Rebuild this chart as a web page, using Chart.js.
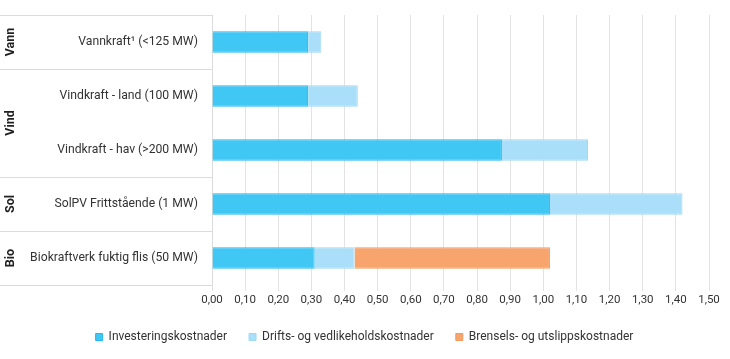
<!DOCTYPE html>
<html>
<head>
<meta charset="utf-8">
<script src="https://cdn.jsdelivr.net/npm/chart.js@4"></script>
<style>
html,body{margin:0;padding:0;background:#fff;}
#wrap{width:730px;height:359px;position:relative;}
</style>
</head>
<body>
<div id="wrap"><canvas id="c"></canvas></div>
<script>
const categories = ['Vannkraft\u00B9 (<125 MW)', 'Vindkraft - land (100 MW)', 'Vindkraft - hav (>200 MW)', 'SolPV Frittstående (1 MW)', 'Biokraftverk fuktig flis (50 MW)'];
const groupNames = ['Vann', 'Vind', 'Sol', 'Bio'];
const groupSizes = [1, 2, 1, 1];
const seriesNames = ['Investeringskostnader', 'Drifts- og vedlikeholdskostnader', 'Brensels- og utslippskostnader'];
const investering = [0.29, 0.29, 0.875, 1.02, 0.31];
const drift = [0.04, 0.15, 0.26, 0.40, 0.12];
const brensel = [0, 0, 0, 0, 0.59];
const xTicks = [0, 0.1, 0.2, 0.3, 0.4, 0.5, 0.6, 0.7, 0.8, 0.9, 1.0, 1.1, 1.2, 1.3, 1.4, 1.5];

const FONT = 'Roboto, "Open Sans", sans-serif';
const LINE = '#dcdcdc';

const groupPlugin = {
  id: 'groupBox',
  afterDraw(chart) {
    const ctx = chart.ctx;
    const y = chart.scales.y;
    const area = chart.chartArea;
    const n = categories.length;
    const step = (y.getPixelForValue(n - 1) - y.getPixelForValue(0)) / (n - 1);
    ctx.save();
    ctx.strokeStyle = LINE;
    ctx.lineWidth = 1;
    let idx = 0;
    const bounds = [y.getPixelForValue(0) - step / 2];
    groupSizes.forEach(s => { idx += s; bounds.push(y.getPixelForValue(idx - 1) + step / 2); });
    bounds.forEach(b => {
      const yy = Math.round(b) + 0.5;
      ctx.beginPath(); ctx.moveTo(0, yy); ctx.lineTo(area.left, yy); ctx.stroke();
    });
    ctx.fillStyle = '#222';
    ctx.font = 'bold 12.5px ' + FONT;
    ctx.textAlign = 'center';
    ctx.textBaseline = 'middle';
    groupNames.forEach((g, i) => {
      const cy = (bounds[i] + bounds[i + 1]) / 2;
      ctx.save();
      ctx.translate(11, cy);
      ctx.rotate(-Math.PI / 2);
      ctx.fillText(g, 0, 0);
      ctx.restore();
    });
    ctx.restore();
  }
};

new Chart(document.getElementById('c'), {
  type: 'bar',
  data: {
    labels: categories,
    datasets: [
      { label: seriesNames[0], data: investering, backgroundColor: '#40C7F4', borderColor: '#22B9EE', borderWidth: 1 },
      { label: seriesNames[1], data: drift, backgroundColor: '#AADFFA', borderColor: '#9DD8F7', borderWidth: 1 },
      { label: seriesNames[2], data: brensel, backgroundColor: '#F7A56D', borderColor: '#F29A5E', borderWidth: 1 }
    ]
  },
  options: {
    indexAxis: 'y',
    responsive: true,
    maintainAspectRatio: false,
    animation: false,
    layout: { padding: { left: 20, right: 21, top: 15, bottom: 6 } },
    datasets: { bar: { categoryPercentage: 1, barPercentage: 0.4 } },
    scales: {
      x: {
        stacked: true,
        min: 0, max: 1.5,
        afterBuildTicks: s => { s.ticks = xTicks.map(v => ({ value: v })); },
        afterFit: s => { s.height = 24; },
        grid: { color: '#e3e3e3', tickLength: 6, drawTicks: true },
        border: { display: false },
        ticks: {
          color: '#333', font: { family: FONT, size: 11.5 }, padding: 2,
          maxRotation: 0, autoSkip: false,
          callback: v => Number(v).toFixed(2).replace('.', ',')
        }
      },
      y: {
        stacked: true,
        afterFit: s => { s.width = 192; },
        grid: { display: false },
        border: { display: true, color: LINE },
        ticks: { color: '#333', font: { family: FONT, size: 12.2 }, padding: 6 }
      }
    },
    plugins: {
      legend: {
        position: 'bottom',
        labels: {
          boxWidth: 7, boxHeight: 7, padding: 22,
          color: '#333', font: { family: FONT, size: 12 }
        }
      },
      tooltip: { enabled: false }
    }
  },
  plugins: [groupPlugin]
});
</script>
</body>
</html>
